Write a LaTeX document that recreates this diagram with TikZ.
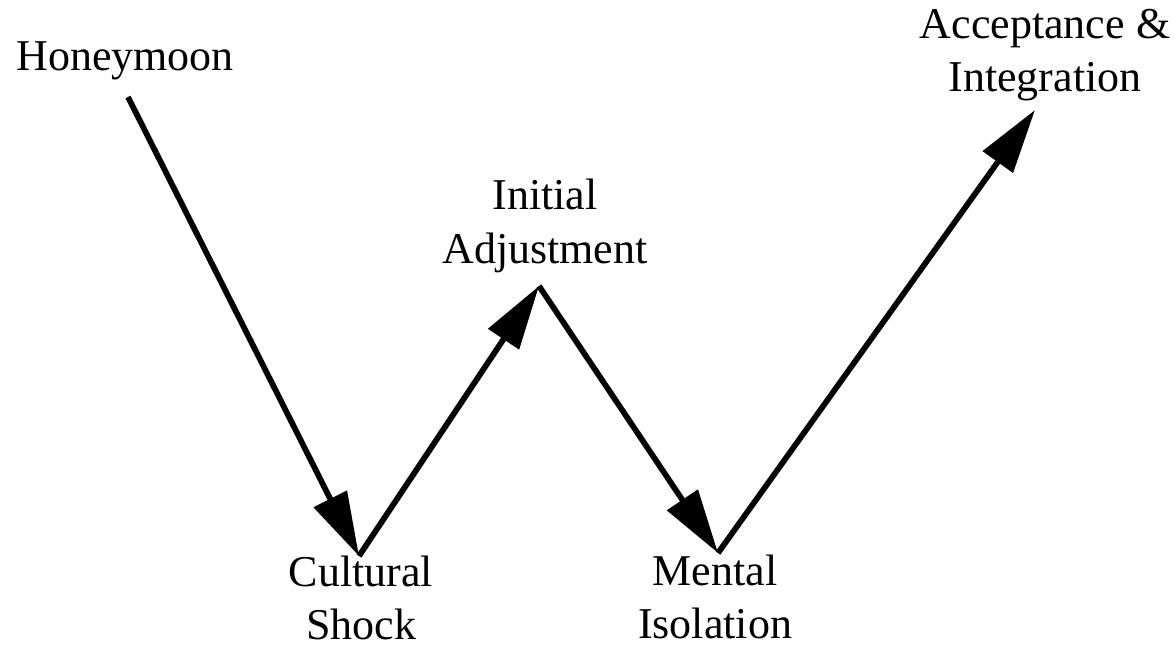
\documentclass[tikz,border=0pt]{standalone}
\usepackage{fontspec}
\setmainfont{Liberation Serif}
\usetikzlibrary{arrows.meta}
\tikzset{
  stagelabel/.style={align=center, font=\fontsize{33}{40}\selectfont, inner sep=0pt},
  stagearrow/.style={line width=4.3pt, -{Triangle[length=48pt,width=27pt]}}
}
\begin{document}
\begin{tikzpicture}[x=0.75pt,y=0.75pt,yscale=-1,xscale=1]
\useasboundingbox (0,0) rectangle (1175,649);

%Vertices
\coordinate (hm) at (128,97);
\coordinate (cs) at (359,556);
\coordinate (ia) at (539,286);
\coordinate (mi) at (718,553);
\coordinate (ai) at (1035,110);

%Straight Lines
\draw [stagearrow] (hm) -- (cs);
%Straight Lines
\draw [stagearrow] (cs) -- (ia);
%Straight Lines
\draw [stagearrow] (ia) -- (mi);
%Straight Lines
\draw [stagearrow] (mi) -- (ai);

% Text Node
\node [stagelabel] (honeymoon) at (125,61) {Honeymoon};
% Text Node
\node [stagelabel] (shock) at (361,598) {Cultural\\Shock};
% Text Node
\node [stagelabel] (adjust) at (545,226) {Initial\\Adjustment};
% Text Node
\node [stagelabel] (isolation) at (715,597) {Mental\\Isolation};
% Text Node
\node [stagelabel] (accept) at (1045,55) {Acceptance \&\\Integration};
\end{tikzpicture}
\end{document}
